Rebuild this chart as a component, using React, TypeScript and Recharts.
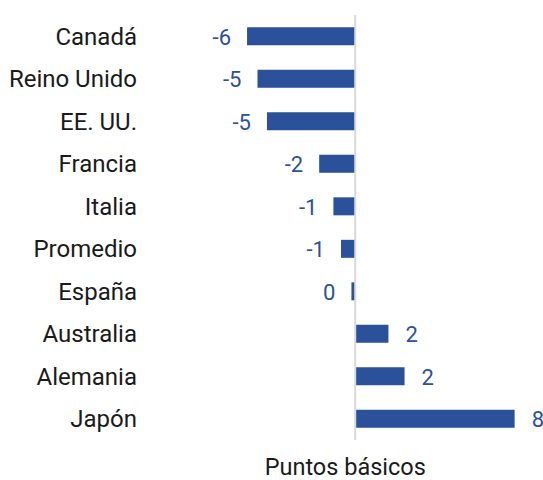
import React from 'react';
import { BarChart, Bar, XAxis, YAxis, ReferenceLine, LabelList } from 'recharts';

const countries = ['Canadá', 'Reino Unido', 'EE. UU.', 'Francia', 'Italia', 'Promedio', 'España', 'Australia', 'Alemania', 'Japón'];
const values = [-5.7, -5.15, -4.65, -1.9, -1.15, -0.75, -0.2, 1.75, 2.6, 8.4];
const valueLabels = ['-6', '-5', '-5', '-2', '-1', '-1', '0', '2', '2', '8'];

const BLUE = '#2A5199';
const FONT = 'Roboto, "Noto Sans", sans-serif';

const data = countries.map((name, i) => ({ name, value: values[i], label: valueLabels[i] }));

function ValueLabel(props: any) {
  const { x, y, width, height, index } = props;
  const left = Math.min(x, x + width);
  const right = Math.max(x, x + width);
  const neg = values[index] < 0;
  return (
    <text
      x={neg ? left - 16 : right + 17}
      y={y + height / 2}
      dy="0.38em"
      textAnchor={neg ? 'end' : 'start'}
      fill={BLUE}
      fontSize={22}
      fontFamily={FONT}
    >
      {valueLabels[index]}
    </text>
  );
}

export default function App() {
  return (
    <div style={{ width: 543, height: 480, background: '#fff' }}>
      <style>{`body { margin: 0; }`}</style>
      <BarChart
        width={543}
        height={480}
        data={data}
        layout="vertical"
        margin={{ top: 15, right: 7.5, bottom: 0, left: 0 }}
        barCategoryGap="29%"
      >
        <XAxis
          type="number"
          domain={[-11.5, 9.5]}
          axisLine={false}
          tickLine={false}
          tick={false}
          height={40}
          label={{ value: 'Puntos básicos', position: 'insideBottom', offset: 0, dx: 9, dy: -5, fill: '#1a1a1a', fontSize: 23.5, fontFamily: FONT }}
        />
        <YAxis
          type="category"
          dataKey="name"
          width={137}
          axisLine={false}
          tickLine={false}
          tickSize={0}
          tickMargin={0}
          tick={{ fill: '#1a1a1a', fontSize: 24, fontFamily: FONT }}
        />
        <ReferenceLine x={0} stroke="#d9d9d9" strokeWidth={2} />
        <Bar dataKey="value" fill={BLUE} isAnimationActive={false}>
          <LabelList dataKey="label" content={<ValueLabel />} />
        </Bar>
      </BarChart>
    </div>
  );
}
